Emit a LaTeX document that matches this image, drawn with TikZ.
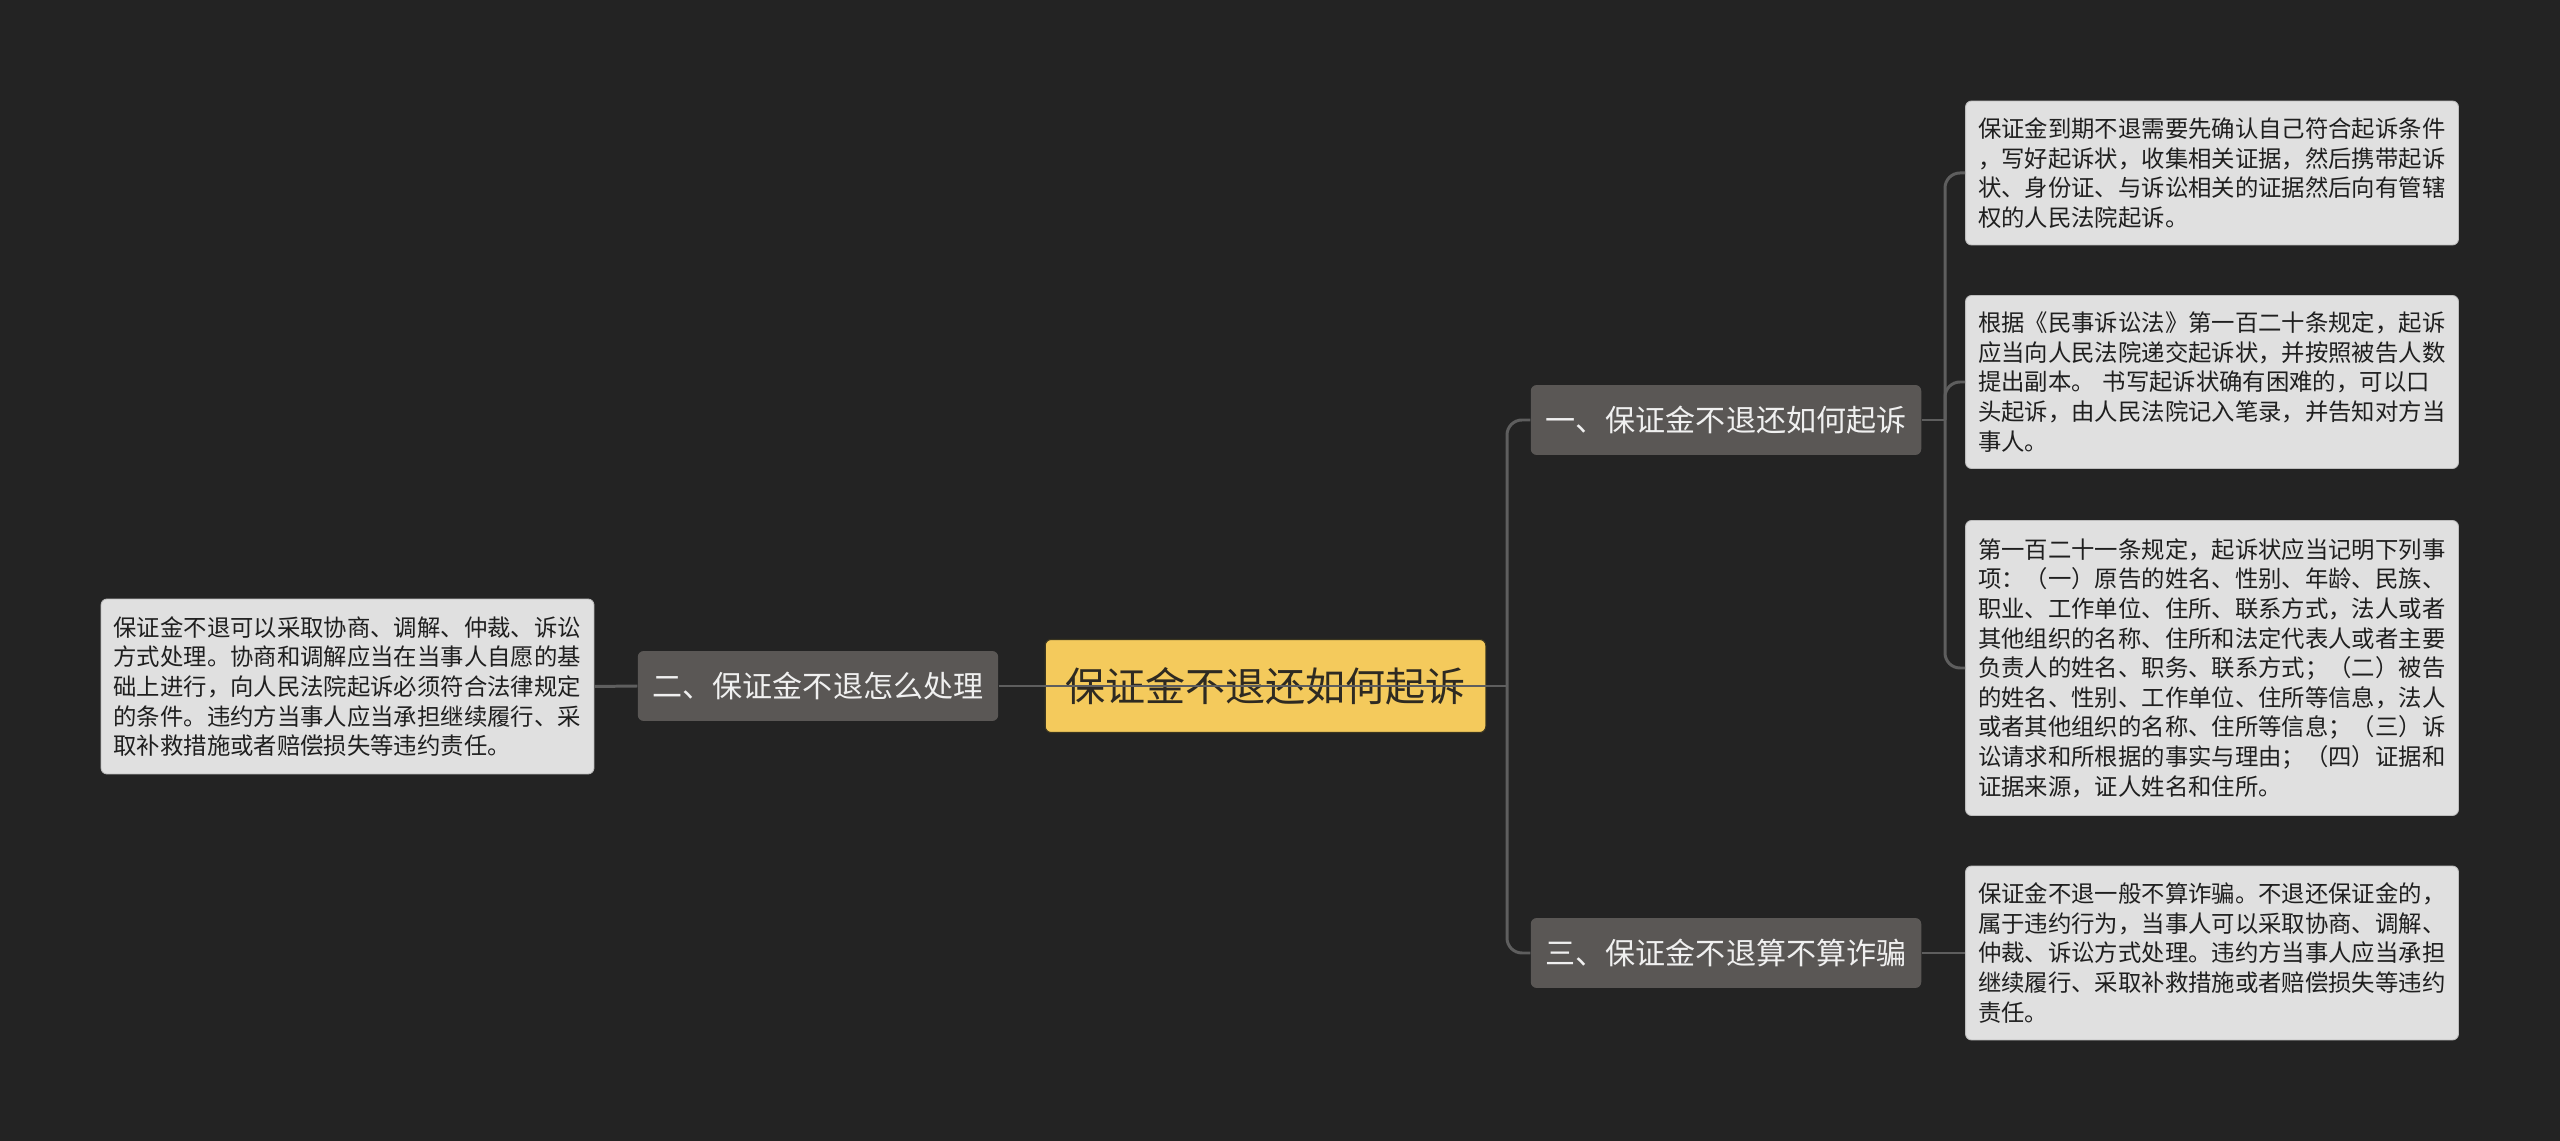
\documentclass[tikz,border=0pt]{standalone}
\usepackage{fontspec}
\newfontfamily\cjk{Noto Sans CJK SC}
\usepackage{xcolor}
\usetikzlibrary{positioning, calc}

\definecolor{bgdark}{HTML}{232323}
\definecolor{rootyellow}{HTML}{F4CA5C}
\definecolor{rootedge}{HTML}{3A3520}
\definecolor{roottext}{HTML}{2E2A22}
\definecolor{branchgray}{HTML}{5A5755}
\definecolor{leafgray}{HTML}{E0E0E0}
\definecolor{leafedge}{HTML}{BDBDBD}
\definecolor{linkgray}{HTML}{5E5E5E}

\begin{document}
\begin{tikzpicture}[x=0.02cm, y=-0.02cm,
  root/.style={rectangle, rounded corners=0.12cm, fill=rootyellow, draw=rootedge, line width=0.6pt, font=\cjk\fontsize{22.8}{26}\selectfont, text=roottext, inner xsep=0.4cm, minimum height=1.86cm},
  branch/.style={rectangle, rounded corners=0.12cm, fill=branchgray, font=\cjk\fontsize{17.1}{20}\selectfont, text=white!94!black, inner xsep=0.3cm, minimum height=1.4cm},
  leaf/.style={rectangle, rounded corners=0.12cm, fill=leafgray, draw=leafedge, line width=0.5pt, font=\cjk\fontsize{13.3}{16.85}\selectfont, text=black!88, text width=9.36cm, inner xsep=0.25cm, align=left},
  link/.style={draw=linkgray, line width=1.7pt}
]

%% Background
\fill[bgdark] (0,0) rectangle (2560,1141);

%% Centre and branches
\node[root] (root) at (1265.5, 686) {保证金不退还如何起诉};
\node[branch] (one) at (1726, 420) {一、保证金不退还如何起诉};
\node[branch] (two) at (818, 686) {二、保证金不退怎么处理};
\node[branch] (three) at (1726, 953) {三、保证金不退算不算诈骗};

%% Leaves
\node[leaf, minimum height=2.88cm] (leafA) at (2212, 173) {保证金到期不退需要先确认自己符合起诉条件\\，写好起诉状，收集相关证据，然后携带起诉\\状、身份证、与诉讼相关的证据然后向有管辖\\权的人民法院起诉。};
\node[leaf, minimum height=3.46cm] (leafB) at (2212, 382) {根据《民事诉讼法》第一百二十条规定，起诉\\应当向人民法院递交起诉状，并按照被告人数\\提出副本。 书写起诉状确有困难的，可以口\\头起诉，由人民法院记入笔录，并告知对方当\\事人。};
\node[leaf, minimum height=5.9cm] (leafC) at (2212, 668) {第一百二十一条规定，起诉状应当记明下列事\\项：（一）原告的姓名、性别、年龄、民族、\\职业、工作单位、住所、联系方式，法人或者\\其他组织的名称、住所和法定代表人或者主要\\负责人的姓名、职务、联系方式；（二）被告\\的姓名、性别、工作单位、住所等信息，法人\\或者其他组织的名称、住所等信息；（三）诉\\讼请求和所根据的事实与理由；（四）证据和\\证据来源，证人姓名和住所。};
\node[leaf, minimum height=3.48cm] (leafD) at (2212, 953) {保证金不退一般不算诈骗。不退还保证金的，\\属于违约行为，当事人可以采取协商、调解、\\仲裁、诉讼方式处理。违约方当事人应当承担\\继续履行、采取补救措施或者赔偿损失等违约\\责任。};
\node[leaf, minimum height=3.5cm] (leafL) at (347.5, 686.5) {保证金不退可以采取协商、调解、仲裁、诉讼\\方式处理。协商和调解应当在当事人自愿的基\\础上进行，向人民法院起诉必须符合法律规定\\的条件。违约方当事人应当承担继续履行、采\\取补救措施或者赔偿损失等违约责任。};

%% Connectors
\coordinate (trunk) at (1507, 686);
\coordinate (fork) at (1945, 420);
\draw[link] (leafL.east) -- (two.west);
\draw[link] (two.east) -- (root.east) -- (trunk);
\draw[link, rounded corners=0.3cm] (one.west) -| (trunk) |- (three.west);
\draw[link] (one.east) -- (fork);
\draw[link, rounded corners=0.3cm] (leafA.west) -| (fork) |- (leafC.west);
\draw[link, rounded corners=0.3cm] (fork) |- (leafB.west);
\draw[link] (three.east) -- (leafD.west);

\end{tikzpicture}
\end{document}
